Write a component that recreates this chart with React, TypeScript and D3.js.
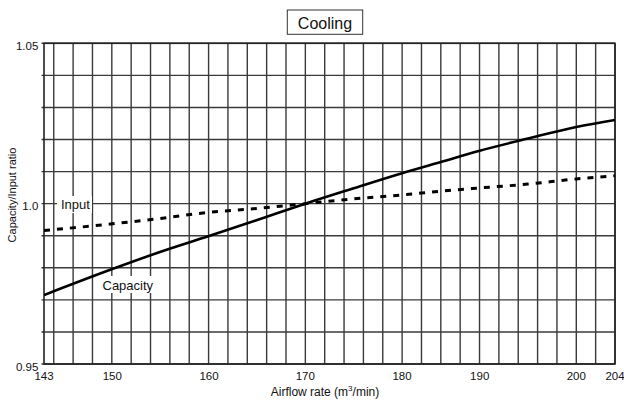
import React from "react";
import * as d3 from "d3";

const title = "Cooling";
const xLabel = "Airflow rate (m";
const yLabel = "Capacity/Input ratio";

const xTickValues = [143, 150, 160, 170, 180, 190, 200, 204];
const yTickValues = [0.95, 1.0, 1.05];
const yTickLabels = ["0.95", "1.0", "1.05"];

const airflow = [143, 150, 155, 160, 165, 170, 175, 180, 185, 190, 195, 200, 204];
const capacity = [0.9715, 0.9796, 0.985, 0.9899, 0.9949, 1.0, 1.0048, 1.0095, 1.013, 1.0165, 1.0203, 1.0239, 1.0261];
const input = [0.9916, 0.9937, 0.9954, 0.9973, 0.9985, 1.0, 1.0015, 1.0027, 1.0039, 1.0049, 1.0061, 1.0077, 1.0087];

const W = 624;
const H = 402;
const left = 44;
const right = 615;
const top = 43.3;
const bottom = 364;

export default function App() {
  // The original chart's tick labels are not evenly spaced; map through their drawn positions.
  const x = d3
    .scaleLinear()
    .domain(xTickValues)
    .range([44, 112.3, 209, 305.3, 402, 479.7, 576.3, 615]);
  const y = d3.scaleLinear().domain([0.95, 1.05]).range([bottom, top]);

  const gridX = d3.scaleLinear().domain([0, 29]).range([x(144), x(204)]);
  const vLines = d3.range(0, 30).map((i) => gridX(i));
  const hLines = d3.range(0, 11).map((i) => y(0.95 + i * 0.01));

  const line = d3
    .line<[number, number]>()
    .x((d) => x(d[0]))
    .y((d) => y(d[1]))
    .curve(d3.curveMonotoneX);

  const capPath = line(airflow.map((a, i) => [a, capacity[i]]))!;
  const inPath = line(airflow.map((a, i) => [a, input[i]]))!;

  const font = "Liberation Sans, Arial, Helvetica, sans-serif";
  const gridColor = "#3a3a3a";

  return (
    <svg
      width={W}
      height={H}
      style={{ position: "absolute", left: 0, top: 0, display: "block", background: "#fff" }}
      fontFamily={font}
    >
      <defs>
        <clipPath id="plotClip">
          <rect x={left} y={top} width={right - left} height={bottom - top} />
        </clipPath>
      </defs>
      <rect x={0} y={0} width={W} height={H} fill="#fff" />

      {/* grid */}
      {vLines.map((vx, i) => (
        <line key={"v" + i} x1={vx} x2={vx} y1={top} y2={bottom} stroke={gridColor} strokeWidth={1.4} />
      ))}
      {hLines.map((hy, i) => (
        <line key={"h" + i} x1={left - 2.5} x2={right} y1={hy} y2={hy} stroke={gridColor} strokeWidth={1.4} />
      ))}
      {/* frame */}
      <rect x={left} y={top} width={right - left} height={bottom - top} fill="none" stroke="#222" strokeWidth={1.6} />

      {/* curves */}
      <g clipPath="url(#plotClip)">
        <path d={capPath} fill="none" stroke="#000" strokeWidth={2.6} />
        <path d={inPath} fill="none" stroke="#000" strokeWidth={3} strokeDasharray="6,7" />
      </g>

      {/* series labels */}
      <rect x={57} y={196} width={35} height={17} fill="#fff" />
      <text x={61} y={209} fontSize={13} fill="#111">Input</text>
      <rect x={100} y={276} width={55} height={17} fill="#fff" />
      <text x={102.5} y={289.5} fontSize={13} fill="#111">Capacity</text>

      {/* x ticks */}
      {xTickValues.map((v) => (
        <text key={"xt" + v} x={x(v)} y={380} fontSize={11.5} textAnchor="middle" fill="#111">
          {v}
        </text>
      ))}
      {/* y ticks */}
      {yTickValues.map((v, i) => (
        <text key={"yt" + v} x={38.3} y={y(v) + 6.5} fontSize={11.5} textAnchor="end" fill="#111">
          {yTickLabels[i]}
        </text>
      ))}

      {/* axis titles */}
      <text x={325} y={396} fontSize={12} textAnchor="middle" fill="#111">
        {xLabel}
        <tspan dy={-5} fontSize={8}>3</tspan>
        <tspan dy={5}>/min)</tspan>
      </text>
      <text
        transform={`translate(16, 195) rotate(-90)`}
        fontSize={11}
        textAnchor="middle"
        fill="#111"
      >
        {yLabel}
      </text>

      {/* title */}
      <rect x={287.3} y={10} width={75.4} height={24.3} fill="#fff" stroke="#333" strokeWidth={1} />
      <text x={325} y={29} fontSize={16} textAnchor="middle" fill="#111">
        {title}
      </text>
    </svg>
  );
}
